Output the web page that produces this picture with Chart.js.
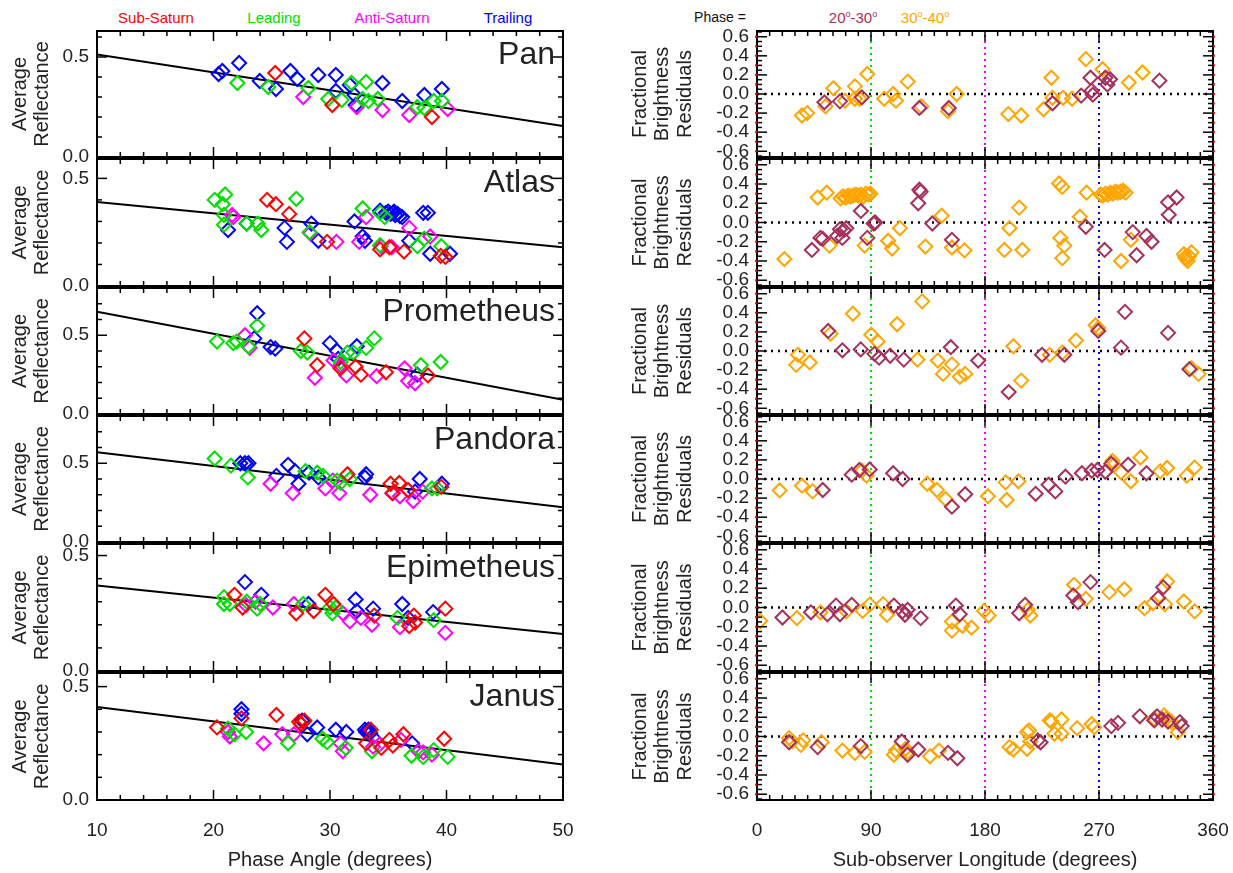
<!DOCTYPE html>
<html>
<head>
<meta charset="utf-8">
<script src="https://cdn.jsdelivr.net/npm/chart.js@4.4.0/dist/chart.umd.min.js"></script>
<style>
  body { margin: 0; width: 1233px; height: 873px; position: relative; overflow: hidden; background: #fff;
         font-family: "Liberation Sans", Arial, sans-serif; }
  canvas { position: absolute; }
  .key { position: absolute; top: 9px; font-size: 15px; white-space: nowrap; transform: translateX(-50%); }
  .key sup { font-size: 60%; }
</style>
</head>
<body>
<div class="key" style="left:156px;color:#ff0000">Sub-Saturn</div>
<div class="key" style="left:274px;color:#00e000">Leading</div>
<div class="key" style="left:392px;color:#ff00ff">Anti-Saturn</div>
<div class="key" style="left:508px;color:#0000ff">Trailing</div>
<div class="key" style="left:720px;color:#111;font-size:14px">Phase =</div>
<div class="key" style="left:853px;color:#a5305c">20<sup>o</sup>-30<sup>o</sup></div>
<div class="key" style="left:925px;color:#ffa500">30<sup>o</sup>-40<sup>o</sup></div>
<script>
Chart.defaults.font.family = '"Liberation Sans", Arial, sans-serif';
Chart.defaults.color = '#222';

const RED = '#ff0000', GREEN = '#00e000', MAGENTA = '#ff00ff', BLUE = '#0000ff';
const MAROON = '#a5305c', ORANGE = '#ffa500';

const moonNames = ['Pan', 'Atlas', 'Prometheus', 'Pandora', 'Epimetheus', 'Janus'];
const panelEdges = [30, 158, 287, 415, 543, 672, 800];
const reflMax = [0.63, 0.59, 0.8, 0.8, 0.55, 0.56];
const reflTicks = [0, 0.5];
const phaseTicks = [10, 20, 30, 40, 50];
const lonTicks = [0, 90, 180, 270, 360];
const residTicks = [-0.6, -0.4, -0.2, 0, 0.2, 0.4, 0.6];
const residRange = [-0.66, 0.66];
const quadrantLon = [90, 180, 270];
const quadrantColors = [GREEN, MAGENTA, BLUE];

// reflectance vs phase angle: [phase (deg), average reflectance]
const panSub = [[25.3,0.42],[30.2,0.26],[38.75,0.20]];
const panLead = [[22.05,0.37],[24.7,0.35],[28.15,0.345],[29.85,0.29],[31.0,0.285],[31.85,0.37],[32.8,0.29],[33.1,0.375],[33.3,0.28],[34.1,0.29],[37.5,0.25],[38.1,0.245],[38.9,0.28],[39.6,0.28]];
const panAnti = [[27.7,0.30],[32.3,0.25],[34.5,0.235],[36.8,0.21],[40.1,0.24]];
const panTrail = [[20.44,0.415],[20.76,0.43],[22.2,0.47],[23.97,0.38],[25.36,0.34],[26.6,0.43],[27.2,0.39],[29.0,0.41],[30.5,0.41],[30.5,0.33],[31.7,0.36],[32.1,0.31],[32.2,0.26],[34.5,0.37],[36.2,0.28],[38.1,0.31],[39.6,0.34]];
const panFit = [0.513, 0.155];

const atlasSub = [[24.6,0.40],[25.35,0.38],[26.5,0.335],[29.75,0.205],[34.3,0.17],[35.1,0.18],[36.35,0.16],[39.5,0.14],[39.9,0.135]];
const atlasLead = [[20.1,0.40],[21.0,0.425],[20.8,0.38],[20.9,0.33],[20.9,0.285],[22.85,0.29],[23.8,0.29],[24.1,0.26],[27.1,0.405],[28.25,0.25],[32.8,0.36],[34.3,0.34],[34.7,0.32],[34.3,0.19],[37.5,0.185],[38.1,0.22],[39.55,0.185]];
const atlasAnti = [[21.6,0.33],[21.7,0.32],[28.3,0.245],[30.55,0.205],[32.5,0.205],[33.1,0.32],[34.35,0.185],[35.3,0.18],[36.8,0.27],[38.6,0.23]];
const atlasTrail = [[21.25,0.26],[22.85,0.29],[26.1,0.27],[26.3,0.205],[28.4,0.29],[29.0,0.21],[32.1,0.30],[32.8,0.23],[33.0,0.21],[34.3,0.35],[34.8,0.34],[35.0,0.345],[35.2,0.335],[35.4,0.34],[35.6,0.33],[35.8,0.335],[36.0,0.325],[36.2,0.32],[35.5,0.345],[36.8,0.21],[38.0,0.34],[38.4,0.34],[38.6,0.15],[40.3,0.15]];
const atlasFit = [0.39, 0.18];

const promSub = [[27.8,0.48],[28.9,0.31],[30.9,0.29],[32.2,0.30],[32.65,0.25],[34.8,0.265],[38.4,0.245]];
const promLead = [[20.3,0.46],[21.7,0.45],[22.0,0.46],[23.0,0.43],[23.75,0.56],[27.5,0.40],[28.05,0.39],[30.9,0.33],[31.5,0.39],[32.0,0.39],[33.1,0.42],[33.8,0.48],[37.8,0.31],[39.5,0.33]];
const promAnti = [[22.7,0.50],[23.1,0.42],[28.7,0.23],[30.3,0.34],[30.9,0.31],[31.4,0.245],[34.0,0.24],[36.4,0.29],[36.7,0.21],[37.3,0.195]];
const promTrail = [[23.75,0.64],[23.5,0.48],[24.9,0.425],[25.3,0.415],[30.0,0.45],[30.6,0.40],[30.7,0.35],[32.3,0.43],[37.5,0.25]];
const promFit = [0.65, 0.09];

const pandSub = [[31.5,0.43],[35.2,0.37],[35.35,0.31],[35.95,0.375],[36.7,0.33],[39.55,0.35]];
const pandLead = [[20.1,0.53],[21.5,0.485],[22.95,0.41],[27.9,0.45],[28.9,0.44],[29.4,0.42],[30.6,0.39],[30.9,0.375],[31.7,0.40],[38.75,0.34],[39.2,0.34]];
const pandAnti = [[24.9,0.37],[26.8,0.31],[29.6,0.34],[30.25,0.39],[30.8,0.31],[33.45,0.30],[35.4,0.31],[36.0,0.29],[37.15,0.26],[37.95,0.32]];
const pandTrail = [[22.3,0.50],[22.7,0.50],[22.85,0.49],[23.0,0.50],[25.4,0.42],[26.4,0.49],[27.0,0.45],[27.3,0.37],[28.2,0.44],[29.0,0.41],[33.0,0.41],[33.1,0.43],[37.3,0.32],[37.7,0.40],[39.6,0.37]];
const pandFit = [0.57, 0.22];

const epiSub = [[21.8,0.33],[22.5,0.275],[27.1,0.25],[28.6,0.26],[29.6,0.33],[30.3,0.29],[33.8,0.24],[36.8,0.195],[37.2,0.24],[37.3,0.21],[39.9,0.27]];
const epiLead = [[20.9,0.32],[20.9,0.29],[21.4,0.29],[22.85,0.30],[23.75,0.27],[24.0,0.29],[27.7,0.29],[30.0,0.275],[30.2,0.25],[30.5,0.275],[35.8,0.23],[38.9,0.22]];
const epiAnti = [[22.8,0.285],[23.6,0.30],[25.1,0.275],[26.9,0.29],[31.1,0.25],[31.7,0.215],[32.65,0.23],[33.6,0.20],[36.0,0.19],[39.9,0.165]];
const epiTrail = [[22.7,0.385],[24.1,0.33],[28.15,0.29],[32.2,0.31],[32.3,0.26],[33.7,0.27],[36.2,0.29],[36.7,0.23],[38.85,0.255]];
const epiFit = [0.37, 0.16];

const janSub = [[20.3,0.32],[22.4,0.36],[25.4,0.375],[27.35,0.345],[27.8,0.35],[27.5,0.335],[33.1,0.25],[33.5,0.31],[34.4,0.23],[35.1,0.265],[35.4,0.24],[36.3,0.29],[39.8,0.27]];
const janLead = [[21.25,0.315],[21.8,0.29],[22.8,0.30],[26.4,0.25],[29.35,0.27],[29.75,0.255],[31.35,0.23],[33.6,0.215],[37.0,0.195],[38.0,0.19],[38.9,0.22],[40.1,0.19]];
const janAnti = [[21.25,0.30],[21.4,0.28],[24.3,0.25],[25.9,0.29],[26.9,0.29],[30.9,0.25],[31.1,0.215],[33.7,0.235],[34.25,0.245],[36.1,0.265],[37.6,0.215],[38.0,0.21],[38.75,0.20]];
const janTrail = [[22.4,0.40],[22.4,0.38],[27.6,0.35],[28.05,0.29],[28.9,0.32],[30.5,0.31],[31.4,0.30],[33.0,0.31],[33.1,0.30],[33.2,0.305],[33.3,0.31],[33.45,0.295],[33.9,0.265],[37.05,0.25]];
const janFit = [0.41, 0.157];

// brightness residuals vs sub-observer longitude: [longitude (deg), residual]
const panLo = [[53.2,-0.087],[65.5,-0.077],[82.8,-0.035],[128.2,-0.146],[151.4,-0.146],[233.3,-0.097],[255.9,-0.017],[263.3,0.17],[264.2,0.035],[265.1,-0.007],[275,0.17],[276.6,0.10],[278.7,0.155],[317.7,0.14]];
const panHi = [[35.5,-0.225],[39.6,-0.20],[54.1,-0.13],[60.3,0.06],[69.5,-0.07],[77.3,0.08],[77.3,-0.05],[81,-0.05],[87.1,0.21],[100.4,-0.05],[107.5,0.0],[109.7,-0.07],[119,0.13],[129.8,-0.13],[150.8,-0.18],[157.6,0.0],[198.4,-0.21],[208.6,-0.225],[226.2,-0.16],[232.4,0.17],[233.3,-0.04],[241.6,-0.04],[248.7,-0.05],[259.6,0.365],[272.8,0.26],[293.6,0.12],[304.4,0.225]];

const atlasLo = [[43.3,-0.285],[50.1,-0.16],[51.9,-0.17],[63.3,-0.14],[65.5,-0.07],[68.6,-0.08],[67.4,-0.16],[70.5,-0.06],[82,0.12],[87.1,-0.16],[92.1,-0.01],[93.3,0.0],[128.2,0.34],[129.2,0.32],[127.3,0.20],[138.4,-0.01],[153.9,-0.18],[259.6,-0.045],[274.4,-0.285],[296.6,-0.10],[299.7,-0.34],[307.5,-0.14],[311.5,-0.20],[324.5,0.21],[325.1,0.08],[331.3,0.26]];
const atlasHi = [[21.6,-0.38],[47.9,0.26],[55,0.31],[57.2,-0.24],[66,0.25],[68,0.27],[70,0.26],[72,0.28],[74,0.27],[76,0.28],[78,0.29],[80,0.28],[82,0.29],[84,0.27],[86,0.30],[88,0.29],[85,-0.24],[89.6,0.30],[103.5,-0.19],[106.6,-0.27],[112.8,-0.06],[132.9,-0.25],[145.8,0.07],[153.9,-0.26],[163.8,-0.29],[195.3,-0.285],[199.3,-0.06],[207,0.155],[209.5,-0.285],[238.5,0.405],[241,0.37],[239.5,-0.16],[242.6,-0.24],[241,-0.37],[254.9,0.06],[260.2,0.31],[271.3,0.29],[273,0.28],[275,0.30],[277,0.29],[279,0.31],[281,0.30],[283,0.32],[285,0.31],[287,0.32],[289,0.33],[291,0.31],[287.4,-0.40],[295.1,-0.18],[337,-0.33],[338,-0.36],[339,-0.38],[340,-0.40],[341,-0.35],[343,-0.31]];

const promLo = [[56.2,0.21],[67.4,0.007],[81.9,0.017],[92.7,-0.03],[96.4,-0.07],[105.1,-0.05],[115.9,-0.09],[153,0.04],[174.6,-0.10],[198.7,-0.43],[225,-0.04],[242.6,-0.04],[269.4,0.21],[287.4,0.035],[290.5,0.41],[324.5,0.19],[341.4,-0.19]];
const promHi = [[30.9,-0.145],[32.4,-0.04],[41.7,-0.12],[58.1,0.18],[75.7,0.39],[90.2,0.17],[95.2,0.10],[110.6,0.28],[126.7,-0.09],[130.4,0.52],[142.8,-0.10],[146.8,-0.24],[153.9,-0.14],[160.1,-0.27],[164.4,-0.24],[202.4,0.05],[208.6,-0.31],[231.1,-0.04],[241,-0.017],[251.8,0.11],[267.3,0.27],[269.4,0.24],[343,-0.18],[348.6,-0.24]];

const pandLo = [[51.9,-0.115],[74.8,0.045],[80.9,0.094],[89,0.10],[107.5,0.06],[114.9,0.0],[153.9,-0.29],[164.4,-0.16],[220,-0.155],[230.2,-0.06],[235.5,-0.13],[243.5,0.024],[256.5,0.06],[264.2,0.087],[268.8,0.094],[275,0.076],[279.7,0.16],[293,0.15],[307.5,0.06]];
const pandHi = [[17.9,-0.12],[35.5,-0.07],[43.9,-0.13],[82.8,0.087],[86.5,0.035],[134.4,-0.05],[142.1,-0.115],[148.9,-0.21],[182.3,-0.18],[196.2,-0.035],[197.1,-0.22],[206.4,-0.024],[280.6,0.19],[281.8,0.15],[287.4,0.07],[295.1,-0.024],[302.8,0.225],[318.3,0.08],[323.8,0.115],[339.3,0.035],[345.5,0.12]];

const epiLo = [[20.1,-0.104],[42.6,-0.05],[55.6,-0.07],[62.4,0.02],[65.5,-0.07],[74.8,0.028],[108.1,0.02],[114.9,-0.04],[116.8,-0.076],[118.9,-0.024],[129.2,-0.11],[157,0.02],[160.1,-0.07],[207,-0.06],[211.7,0.028],[249.7,0.125],[253.4,0.055],[263.3,0.264],[316.7,0.097],[320.7,0.21]];
const epiHi = [[2.5,-0.14],[31.5,-0.11],[50.1,-0.05],[70.5,-0.04],[83.4,-0.035],[89,0.03],[99.5,0.035],[102.6,-0.076],[153.9,-0.146],[153.9,-0.24],[162.2,-0.19],[169.3,-0.21],[179.2,-0.035],[182.9,-0.083],[213.8,-0.024],[215.7,-0.083],[250.3,0.236],[259.6,0.09],[278.1,0.16],[290,0.19],[305.9,-0.007],[312.7,0.045],[322,0.035],[323.8,0.27],[337,0.0625],[345.5,-0.04]];

const janLo = [[25.3,-0.06],[47.9,-0.11],[81.9,-0.10],[114.3,-0.052],[118.9,-0.19],[127.3,-0.135],[150.8,-0.17],[158.2,-0.226],[221.7,-0.04],[223.9,-0.06],[279.7,0.108],[285,0.142],[302.2,0.21],[313.6,0.167],[315.8,0.21],[319.8,0.177],[324.5,0.156],[333.8,0.15],[335.3,0.108]];
const janHi = [[25.3,-0.017],[27.8,-0.05],[34.6,-0.087],[36.5,-0.04],[51,-0.06],[67.4,-0.146],[77.3,-0.17],[85,-0.16],[108.1,-0.19],[109.7,-0.146],[117.4,-0.128],[118.9,-0.16],[136.6,-0.205],[143.7,-0.146],[199.3,-0.11],[202.4,-0.135],[213.2,0.045],[214.8,0.0625],[213.2,-0.128],[215.7,-0.052],[231.1,0.167],[232.4,0.156],[234.8,0.028],[240.4,0.177],[240.4,0.028],[252.7,0.087],[264.2,0.13],[266.3,0.097],[313.6,0.184],[321.4,0.22],[322.9,0.184],[326.9,0.156],[332.2,0.045]];

const reflGroups = [
  [panSub, panLead, panAnti, panTrail, panFit],
  [atlasSub, atlasLead, atlasAnti, atlasTrail, atlasFit],
  [promSub, promLead, promAnti, promTrail, promFit],
  [pandSub, pandLead, pandAnti, pandTrail, pandFit],
  [epiSub, epiLead, epiAnti, epiTrail, epiFit],
  [janSub, janLead, janAnti, janTrail, janFit]
];
const residGroups = [
  [panLo, panHi], [atlasLo, atlasHi], [promLo, promHi],
  [pandLo, pandHi], [epiLo, epiHi], [janLo, janHi]
];

// frame, inward tick marks and the moon name inside each panel
const panelDeco = {
  id: 'panelDeco',
  afterDraw(chart, args, o) {
    const {ctx, chartArea: a} = chart;
    const xs = chart.scales.x, ys = chart.scales.y;
    const seg = (x0, y0, x1, y1) => { ctx.beginPath(); ctx.moveTo(x0, y0); ctx.lineTo(x1, y1); ctx.stroke(); };
    ctx.save();
    ctx.strokeStyle = '#000';
    ctx.lineWidth = 1.5;
    const nx = Math.round((xs.max - xs.min) / o.xMinor);
    for (let k = 0; k <= nx; k++) {
      const px = xs.getPixelForValue(xs.min + k * o.xMinor);
      const len = k % o.xEvery === 0 ? 10 : 5;
      seg(px, a.bottom, px, a.bottom - len);
      seg(px, a.top, px, a.top + len);
    }
    const k0 = Math.ceil(ys.min / o.yMinor - 1e-6), k1 = Math.floor(ys.max / o.yMinor + 1e-6);
    for (let k = k0; k <= k1; k++) {
      const py = ys.getPixelForValue(k * o.yMinor);
      const len = k % o.yEvery === 0 ? 10 : 5;
      seg(a.left, py, a.left + len, py);
      seg(a.right, py, a.right - len, py);
    }
    ctx.lineWidth = 2;
    ctx.strokeRect(a.left, a.top, a.right - a.left, a.bottom - a.top);
    if (o.redDots) {
      ctx.fillStyle = '#ff0000';
      for (let k = -6; k <= 6; k++) {
        const py = ys.getPixelForValue(k / 10);
        ctx.fillRect(a.left - 2, py - 1, 2, 2);
        ctx.fillRect(a.right, py - 1, 2, 2);
      }
    }
    if (o.name) {
      ctx.font = '32px "Liberation Sans", Arial, sans-serif';
      ctx.fillStyle = '#222';
      ctx.textAlign = 'right';
      ctx.textBaseline = 'alphabetic';
      ctx.fillText(o.name, a.right - 8, a.top + 33);
    }
    ctx.restore();
  }
};

function diamonds(pts, color) {
  return {
    type: 'scatter', data: pts.map(([x, y]) => ({x, y})), showLine: false,
    pointStyle: 'rectRot', pointRadius: 7, pointBorderWidth: 2,
    pointBorderColor: color, pointBackgroundColor: 'rgba(0,0,0,0)',
    borderColor: color, backgroundColor: 'rgba(0,0,0,0)'
  };
}

function segment(pts, color, width, dash) {
  return {
    type: 'line', data: pts.map(([x, y]) => ({x, y})), borderColor: color,
    borderWidth: width, borderDash: dash || [], pointRadius: 0, fill: false, tension: 0
  };
}

function makePanel(col, i, datasets, yMin, yMax, yTicks, deco) {
  const last = i === panelEdges.length - 2;
  const top = panelEdges[i] - 8;
  const h = last ? 873 - top : panelEdges[i + 1] - panelEdges[i] + 16;
  const left = col === 0 ? 0 : 620;
  const w = col === 0 ? 590 : 613;
  const axisW = col === 0 ? 97 : 137;
  const padR = col === 0 ? 27 : 20;

  const c = document.createElement('canvas');
  c.width = w; c.height = h;
  c.style.left = left + 'px'; c.style.top = top + 'px';
  document.body.appendChild(c);

  const xTicks = col === 0 ? phaseTicks : lonTicks;
  new Chart(c, {
    type: 'scatter',
    data: {datasets},
    plugins: [panelDeco],
    options: {
      responsive: false,
      animation: false,
      layout: {padding: {left: 0, right: padR, top: 8, bottom: last ? 0 : 8}},
      plugins: {legend: {display: false}, tooltip: {enabled: false}, panelDeco: deco},
      scales: {
        x: {
          type: 'linear', min: xTicks[0], max: xTicks[xTicks.length - 1], display: last,
          grid: {display: false, drawTicks: false}, border: {display: false},
          afterBuildTicks: s => { s.ticks = xTicks.map(v => ({value: v})); },
          ticks: {font: {size: 19}, padding: 19, maxRotation: 0, autoSkip: false, callback: v => String(v)},
          title: {
            display: true, text: col === 0 ? 'Phase Angle (degrees)' : 'Sub-observer Longitude (degrees)',
            font: {size: 20}, padding: {top: 0, bottom: 1}
          },
          afterFit: s => {
            s.height = last ? 73 : 0;
            s.paddingLeft = 0; s.paddingRight = 0;
          }
        },
        y: {
          type: 'linear', min: yMin, max: yMax,
          grid: {display: false, drawTicks: false}, border: {display: false},
          afterBuildTicks: s => { s.ticks = yTicks.map(v => ({value: v})); },
          ticks: {font: {size: 19}, padding: 8, autoSkip: false, callback: v => v.toFixed(1)},
          title: {
            display: true,
            text: col === 0 ? ['Average', 'Reflectance'] : ['Fractional', 'Brightness', 'Residuals'],
            font: {size: 20, lineHeight: col === 0 ? 1.1 : 1.12}, padding: {top: 9, bottom: 0}
          },
          afterFit: s => {
            s.width = axisW;
            s.paddingTop = 0; s.paddingBottom = 0;
          }
        }
      }
    }
  });
}

moonNames.forEach((name, i) => {
  const [sub, lead, anti, trail, fit] = reflGroups[i];
  makePanel(0, i, [
    diamonds(sub, RED), diamonds(lead, GREEN), diamonds(anti, MAGENTA), diamonds(trail, BLUE),
    segment([[phaseTicks[0], fit[0]], [phaseTicks[phaseTicks.length - 1], fit[1]]], '#000', 2)
  ], 0, reflMax[i], reflTicks, {name, xMinor: 2, xEvery: 5, yMinor: 0.1, yEvery: 5});

  const [lo, hi] = residGroups[i];
  const sets = [diamonds(lo, MAROON), diamonds(hi, ORANGE)];
  quadrantLon.forEach((lon, q) => {
    sets.push(segment([[lon, residRange[0]], [lon, residRange[1]]], quadrantColors[q], 2, [2, 4]));
  });
  sets.push(segment([[lonTicks[0], 0], [lonTicks[lonTicks.length - 1], 0]], '#000', 2.5, [2, 5]));
  makePanel(1, i, sets, residRange[0], residRange[1], residTicks,
    {xMinor: 10, xEvery: 9, yMinor: 0.05, yEvery: 4, redDots: true});
});
</script>
</body>
</html>
